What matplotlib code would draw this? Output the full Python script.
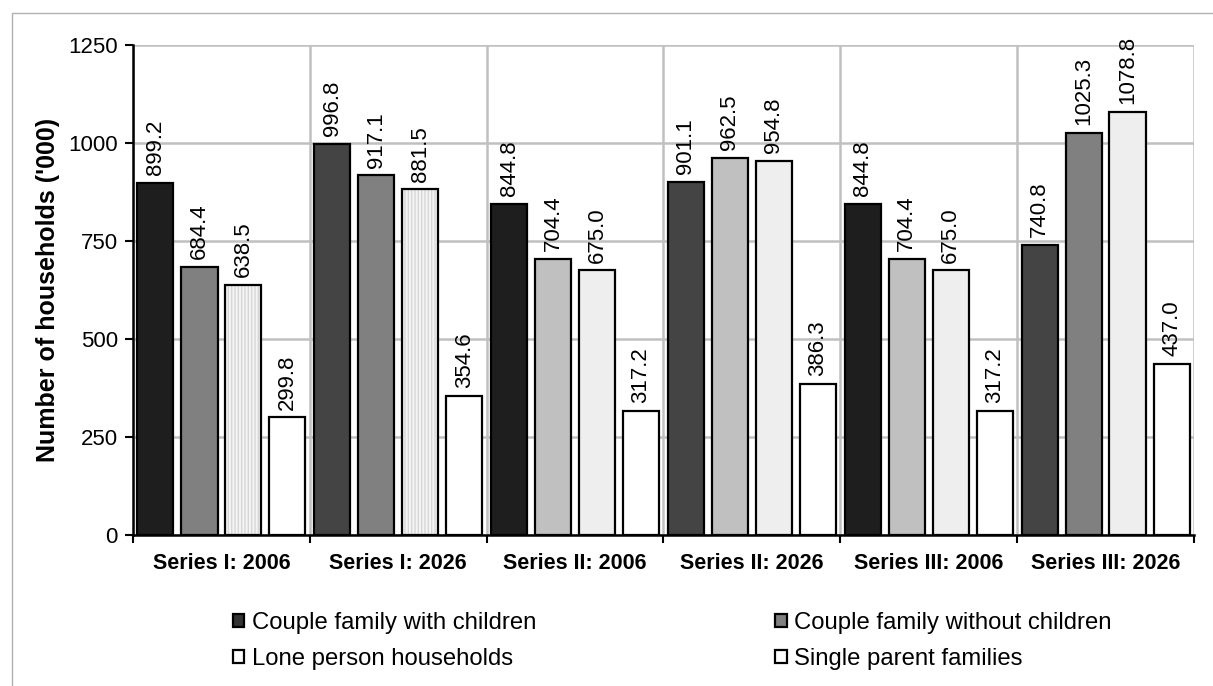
'''
households by family type, three projection series, 2006 and 2026
'''
import numpy as np
import matplotlib.pyplot as plt
from matplotlib.patches import Patch, Rectangle

plt.rcParams['font.family'] = ['Liberation Sans', 'DejaVu Sans']

groups = ['Series I: 2006', 'Series I: 2026', 'Series II: 2006',
          'Series II: 2026', 'Series III: 2006', 'Series III: 2026']
with_children = [899.2, 996.8, 844.8, 901.1, 844.8, 740.8]
without_children = [684.4, 917.1, 704.4, 962.5, 704.4, 1025.3]
lone_person = [638.5, 881.5, 675.0, 954.8, 675.0, 1078.8]
single_parent = [299.8, 354.6, 317.2, 386.3, 317.2, 437.0]

series_names = ['Couple family with children', 'Couple family without children',
                'Lone person households', 'Single parent families']

# fill colours change from group to group in the original
fills = [
    ['#1e1e1e', '#808080', '#f4f4f4', '#ffffff'],
    ['#444444', '#808080', '#f4f4f4', '#ffffff'],
    ['#1e1e1e', '#c0c0c0', '#eeeeee', '#ffffff'],
    ['#444444', '#c0c0c0', '#eeeeee', '#ffffff'],
    ['#1e1e1e', '#c0c0c0', '#eeeeee', '#ffffff'],
    ['#444444', '#808080', '#eeeeee', '#ffffff'],
]
striped = [(0, 2), (1, 2)]

fig = plt.figure(figsize=(12.13, 6.86), dpi=100)
fig.patches.append(Rectangle((12 / 1213, -0.1), 1.2, 1 - 13 / 686 + 0.1,
                             transform=fig.transFigure, fill=False,
                             edgecolor='#b0b0b0', linewidth=1.0))
ax = fig.add_axes([133 / 1213, 1 - 535 / 686, (1194 - 133) / 1213, (535 - 45) / 686])

x = np.arange(len(groups))
width = 0.204
offsets = [-0.373, -0.124, 0.124, 0.373]
data = [with_children, without_children, lone_person, single_parent]

for s, vals in enumerate(data):
    for g, v in enumerate(vals):
        xc = x[g] + offsets[s]
        if (g, s) in striped:
            ax.bar(xc, v, width, color=fills[g][s], edgecolor='#d6d6d6',
                   hatch='|||||', linewidth=0, zorder=2)
            ax.bar(xc, v, width, fill=False, edgecolor='black', linewidth=1.6, zorder=3)
        else:
            ax.bar(xc, v, width, color=fills[g][s], edgecolor='black',
                   linewidth=1.6, zorder=3)
        ax.text(xc, v + 20, '%.1f' % v, rotation=90, ha='center', va='bottom',
                fontsize=16, clip_on=False)

ax.set_xlim(-0.5, len(groups) - 0.5)
ax.set_ylim(0, 1250)
ax.set_yticks([0, 250, 500, 750, 1000, 1250])
ax.set_xticks(x)
ax.set_xticklabels(groups, fontweight='bold', fontsize=15.5)
ax.set_xticks(np.arange(len(groups) + 1) - 0.5, minor=True)
ax.tick_params(axis='x', which='major', length=0, pad=13)
ax.tick_params(axis='x', which='minor', length=6, width=1.5, direction='out')
ax.tick_params(axis='y', length=6, width=1.5, labelsize=16, direction='out', pad=5)
ax.set_ylabel("Number of households ('000)", fontweight='bold', fontsize=18, labelpad=6)

ax.grid(axis='y', color='#c0c0c0', linewidth=1.8, zorder=0)
ax.grid(axis='x', which='minor', color='#c0c0c0', linewidth=1.8, zorder=0)
ax.set_axisbelow(True)
for side in ['top', 'right']:
    ax.spines[side].set_visible(False)
for side in ['left', 'bottom']:
    ax.spines[side].set_linewidth(1.8)
    ax.spines[side].set_zorder(4)

legend_colors = ['#333333', '#808080', '#ffffff', '#ffffff']
handles = [Patch(facecolor=c, edgecolor='black', linewidth=1.6) for c in legend_colors]
order = [0, 2, 1, 3]
fig.legend([handles[i] for i in order], [series_names[i] for i in order],
           ncol=2, loc='center', bbox_to_anchor=(672 / 1213, 1 - 641 / 686),
           frameon=False, fontsize=17.2, handlelength=0.5, handleheight=0.5,
           handletextpad=0.3, columnspacing=10.0, labelspacing=0.6)

fig.savefig('out.png', dpi=100)
